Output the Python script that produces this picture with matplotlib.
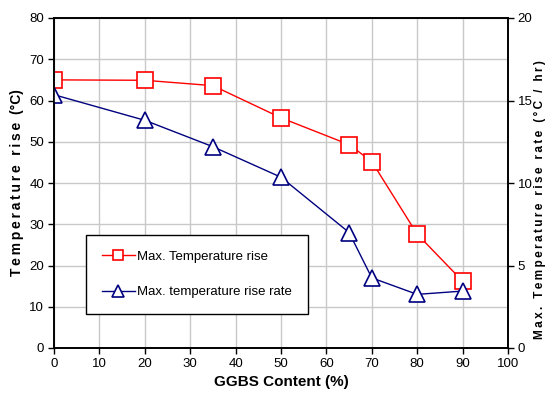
import matplotlib.pyplot as plt

# GGBS replacement level (%) and measured values
ggbs = [0, 20, 35, 50, 65, 70, 80, 90]
temp_rise = [65.0, 64.9, 63.6, 55.8, 49.3, 45.2, 27.6, 16.2]      # degC
rise_rate = [15.35, 13.8, 12.2, 10.35, 7.0, 4.25, 3.25, 3.45]     # degC / hr

x_ticks = list(range(0, 101, 10))
left_ticks = list(range(0, 81, 10))
right_ticks = list(range(0, 21, 5))

plt.rcParams['font.family'] = ['Liberation Sans', 'DejaVu Sans']


def spaced(s, gap='\u2009'):
    # loose letter spacing for the axis titles
    return gap.join(s)


fig = plt.figure(figsize=(5.48, 4.0), dpi=100)
ax = fig.add_axes([54 / 548, 1 - 348 / 400, 454 / 548, 330 / 400])
ax2 = ax.twinx()

ax.set_xlim(0, 100)
ax.set_ylim(0, 80)
ax2.set_ylim(0, 20)
ax.set_xticks(x_ticks)
ax.set_yticks(left_ticks)
ax2.set_yticks(right_ticks)
ax.grid(True, color='#c8c8c8', linewidth=1.0)
ax.set_axisbelow(True)

for a in (ax, ax2):
    a.tick_params(direction='out', length=4, width=1, labelsize=9.5, pad=3)
    for s in a.spines.values():
        s.set_linewidth(1.2)

l1, = ax.plot(ggbs, temp_rise, color='red', linewidth=1, marker='s',
              markersize=11, markerfacecolor='white', markeredgecolor='red',
              markeredgewidth=1.2, label='Max. Temperature rise')
l2, = ax2.plot(ggbs, rise_rate, color='#000080', linewidth=1, marker='^',
               markersize=12, markerfacecolor='white', markeredgecolor='#000080',
               markeredgewidth=1.2, label='Max. temperature rise rate')

ax.set_xlabel('GGBS Content (%)', fontsize=11, fontweight='bold', labelpad=4)
ax.set_ylabel(spaced('Temperature rise') + '  (°C)', fontsize=10,
              fontweight='bold', labelpad=4)
ax2.set_ylabel(spaced('Max. Temperature rise rate (°C / hr)'), fontsize=8.5,
               fontweight='bold', va='center')
ax2.yaxis.set_label_coords((540 - 54) / 454, 0.45)

leg = ax2.legend(handles=[l1, l2], loc='upper left',
                 bbox_to_anchor=((86 - 54) / 454, (348 - 235) / 330),
                 fontsize=9.5, frameon=True, fancybox=False, edgecolor='black',
                 framealpha=1, borderpad=1.2, labelspacing=1.75, handlelength=2.5,
                 handletextpad=0.2, borderaxespad=0, markerscale=0.7)
leg.get_frame().set_linewidth(1.0)

fig.savefig('out.png', dpi=100)
